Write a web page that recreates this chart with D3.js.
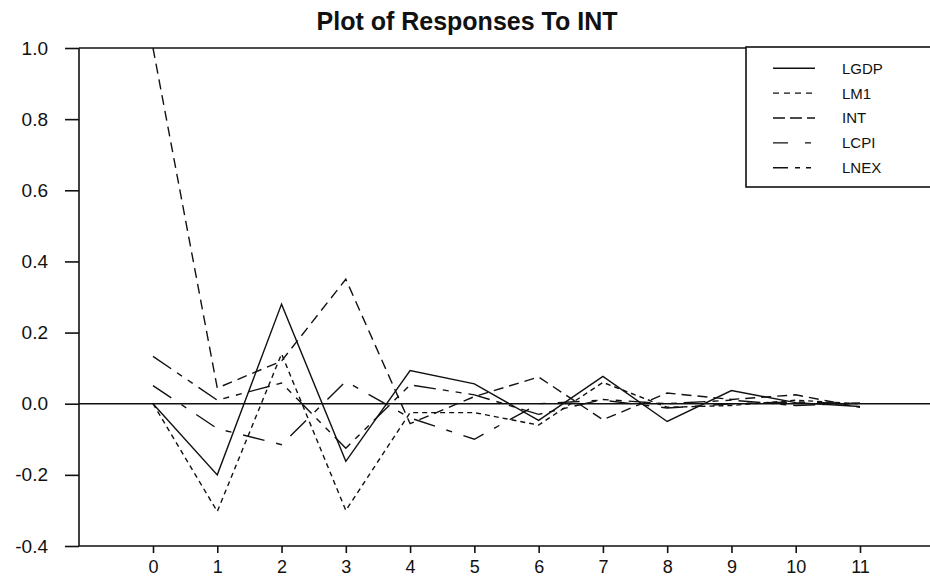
<!DOCTYPE html>
<html>
<head>
<meta charset="utf-8">
<script src="https://cdn.jsdelivr.net/npm/d3@7"></script>
<style>
  body { margin: 0; background: #fff; }
  svg { display: block; font-family: "Liberation Sans", Arial, sans-serif; }
</style>
</head>
<body>
<svg id="chart" width="930" height="577"></svg>
<script>
// horizon steps and tick labels
var steps = [0, 1, 2, 3, 4, 5, 6, 7, 8, 9, 10, 11];
var yTicks = [-0.4, -0.2, 0.0, 0.2, 0.4, 0.6, 0.8, 1.0];

// responses to a shock in INT
var LGDP = [0, -0.200, 0.280, -0.162, 0.093, 0.056, -0.047, 0.077, -0.050, 0.037, 0.003, -0.008];
var LM1  = [0, -0.303, 0.140, -0.300, -0.025, -0.025, -0.060, 0.060, -0.010, -0.005, 0.010, 0.000];
var INT  = [1.0, 0.044, 0.120, 0.350, -0.056, 0.020, 0.075, -0.045, 0.030, 0.012, 0.025, -0.010];
var LCPI = [0.051, -0.070, -0.115, 0.063, -0.040, -0.100, 0.000, 0.010, -0.012, 0.000, 0.005, 0.000];
var LNEX = [0.133, 0.010, 0.058, -0.125, 0.053, 0.025, -0.030, 0.012, 0.000, 0.010, -0.005, 0.002];

var seriesNames = ["LGDP", "LM1", "INT", "LCPI", "LNEX"];
var seriesValues = [LGDP, LM1, INT, LCPI, LNEX];
// dash pattern for each series, same order
var dashes = [null, "5,4", "10,6", "22,12,6,12", "22,7,6,7,6,7"];
var legendDashes = [null, "6,5", "12,5", "15,17,6,20", "15,7,5,6,5,20"];

var svg = d3.select("#chart");
svg.append("rect").attr("width", 930).attr("height", 577).attr("fill", "#fff");

var x = d3.scaleLinear().domain([0, 11]).range([153, 860]);
var y = d3.scaleLinear().domain([-0.4, 1.0]).range([546, 48]);

var ink = "#111";

// title
svg.append("text")
    .attr("x", 467)
    .attr("y", 30)
    .attr("text-anchor", "middle")
    .style("font-size", "25px")
    .style("font-weight", "bold")
    .style("fill", ink)
    .text("Plot of Responses To INT");

// frame lines
var frame = svg.append("g").attr("stroke", ink).attr("stroke-width", 1.6);
frame.append("line").attr("x1", 79).attr("x2", 79).attr("y1", y(1.0)).attr("y2", y(-0.4));
frame.append("line").attr("x1", 79).attr("x2", 930).attr("y1", y(1.0)).attr("y2", y(1.0));
frame.append("line").attr("x1", 79).attr("x2", 930).attr("y1", y(-0.4)).attr("y2", y(-0.4));
frame.append("line").attr("x1", 79).attr("x2", 930).attr("y1", y(0)).attr("y2", y(0));

// y axis
var yAxis = svg.append("g")
    .attr("transform", "translate(79,0)")
    .call(d3.axisLeft(y).tickValues(yTicks).tickSize(14).tickPadding(17)
        .tickFormat(function(d) { return d.toFixed(1); }));
yAxis.select(".domain").remove();
yAxis.selectAll("line").attr("stroke", ink).attr("stroke-width", 1.6);
yAxis.selectAll("text").style("font-size", "19px").style("fill", ink).attr("font-family", null);

// x axis
var xAxis = svg.append("g")
    .attr("transform", "translate(0," + y(-0.4) + ")")
    .call(d3.axisBottom(x).tickValues(steps).tickSize(7).tickPadding(7)
        .tickFormat(function(d) { return String(d); }));
xAxis.select(".domain").remove();
xAxis.selectAll("line").attr("stroke", ink).attr("stroke-width", 1.6);
xAxis.selectAll("text").style("font-size", "18px").style("fill", ink).attr("font-family", null);

// response lines
var line = d3.line()
    .x(function(d, i) { return x(steps[i]); })
    .y(function(d) { return y(d); });

svg.append("g").selectAll("path")
    .data(seriesValues)
    .enter()
    .append("path")
    .attr("d", function(d) { return line(d); })
    .attr("fill", "none")
    .attr("stroke", ink)
    .attr("stroke-width", 1.4)
    .attr("stroke-dasharray", function(d, i) { return dashes[i]; });

// legend
var legend = svg.append("g");
legend.append("rect")
    .attr("x", 746).attr("y", 47)
    .attr("width", 200).attr("height", 140)
    .attr("fill", "#fff")
    .attr("stroke", ink)
    .attr("stroke-width", 1.6);

var item = legend.selectAll(".item")
    .data(seriesNames)
    .enter()
    .append("g")
    .attr("class", "item")
    .attr("transform", function(d, i) { return "translate(0," + (68.3 + i * 24.85) + ")"; });

item.append("line")
    .attr("x1", 773).attr("x2", 815)
    .attr("stroke", ink)
    .attr("stroke-width", 1.4)
    .attr("stroke-dasharray", function(d, i) { return legendDashes[i]; });

item.append("text")
    .attr("x", 842)
    .attr("dy", "0.36em")
    .style("font-size", "15px")
    .style("fill", ink)
    .text(function(d) { return d; });
</script>
</body>
</html>
